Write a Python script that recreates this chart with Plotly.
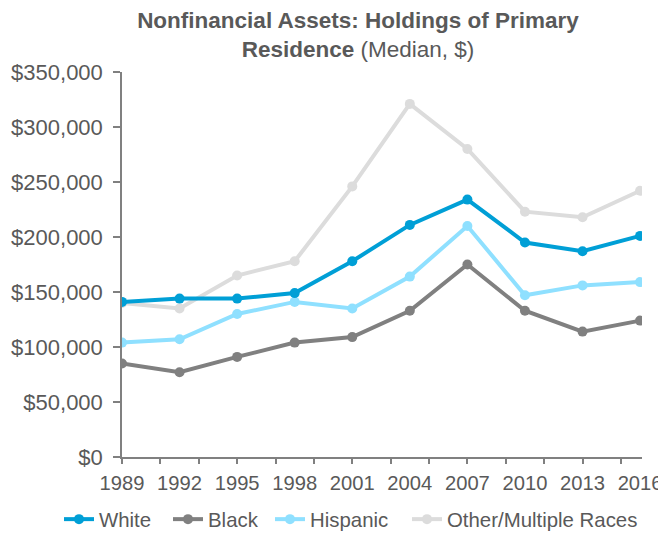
import plotly.graph_objects as go

years = [1989, 1992, 1995, 1998, 2001, 2004, 2007, 2010, 2013, 2016]
white = [141000, 144000, 144000, 149000, 178000, 211000, 234000, 195000, 187000, 201000]
black = [85000, 77000, 91000, 104000, 109000, 133000, 175000, 133000, 114000, 124000]
hispanic = [104000, 107000, 130000, 141000, 135000, 164000, 210000, 147000, 156000, 159000]
other = [140000, 135000, 165000, 178000, 246000, 321000, 280000, 223000, 218000, 242000]
minor_ticks = list(range(1989, 2017, 2))
y_ticks = [0, 50000, 100000, 150000, 200000, 250000, 300000, 350000]

series = {
    "White": (white, "#009fd6", "legend"),
    "Black": (black, "#808080", "legend2"),
    "Hispanic": (hispanic, "#8fe0ff", "legend3"),
    "Other/Multiple Races": (other, "#dcdcdc", "legend4"),
}

fig = go.Figure()
# draw order: White on top of the others
for name in ["Other/Multiple Races", "Black", "Hispanic", "White"]:
    vals, col, lg = series[name]
    fig.add_trace(go.Scatter(
        x=years, y=vals, name=name, mode="lines+markers",
        line=dict(color=col, width=4),
        marker=dict(color=col, size=10),
        legend=lg,
    ))
# empty helper trace so the tick-only overlay axis is drawn
fig.add_trace(go.Scatter(x=[], y=[], xaxis="x2", showlegend=False, hoverinfo="skip"))

axis_col = "#808080"
text_col = "#595959"
font_fam = "Liberation Sans, Arial, sans-serif"

W, H = 658, 525  # page body keeps an 8px margin inside the 666x533 window
legend_y = -0.162

def leg(xpx):
    return dict(
        orientation="h", x=xpx / W, xref="container", xanchor="left",
        y=legend_y, yanchor="middle",
        font=dict(size=20.4, color=text_col, family=font_fam),
        bgcolor="rgba(0,0,0,0)", itemwidth=30,
    )

fig.update_layout(
    width=W, height=H,
    paper_bgcolor="white", plot_bgcolor="white",
    margin=dict(l=114, r=24, t=64, b=76, autoexpand=False),
    font=dict(family=font_fam, color=text_col, size=20),
    title=dict(
        text="<b>Nonfinancial Assets: Holdings of Primary<br>Residence</b> (Median, $)",
        x=350 / W, xref="container", xanchor="center",
        y=1 - 20 / H, yref="container", yanchor="top",
        font=dict(size=22.5, color=text_col, family=font_fam),
    ),
    showlegend=True,
    legend=leg(51),
    legend2=leg(160),
    legend3=leg(262),
    legend4=leg(399),
    xaxis=dict(
        range=[1989, 2016.1], tickmode="array", tickvals=years,
        ticktext=[str(y) for y in years],
        ticks="", showgrid=False, zeroline=False,
        showline=True, linecolor=axis_col, linewidth=1.5,
        tickfont=dict(size=20.2, color=text_col),
        ticklabelstandoff=7,
    ),
    xaxis2=dict(
        range=[1989, 2016.1], overlaying="x", side="bottom", anchor="y",
        tickmode="array", tickvals=minor_ticks, showticklabels=False,
        ticks="outside", ticklen=6, tickcolor=axis_col, tickwidth=1.5,
        showgrid=False, zeroline=False, showline=False,
    ),
    yaxis=dict(
        range=[0, 350000], tickmode="array", tickvals=y_ticks,
        tickformat="$,.0f", ticks="outside", ticklen=7,
        tickcolor=axis_col, tickwidth=1.5,
        showgrid=False, zeroline=False,
        showline=True, linecolor=axis_col, linewidth=1.5,
        tickfont=dict(size=22, color=text_col),
        ticklabelstandoff=6,
    ),
)

fig.write_html("out.html")
